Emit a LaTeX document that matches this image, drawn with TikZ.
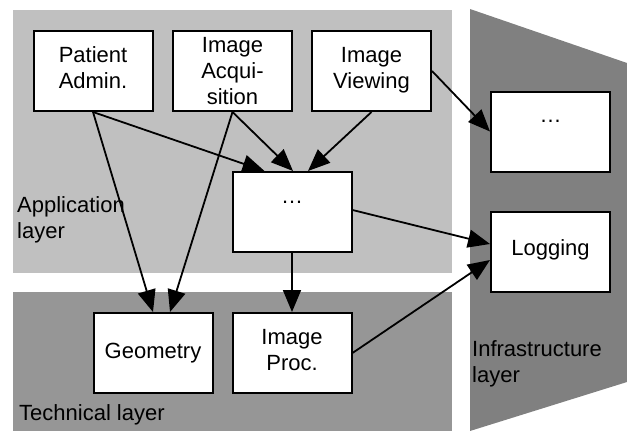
\documentclass[tikz,border=0pt]{standalone}
\usepackage{fontspec}
\setmainfont{Liberation Sans}
\usetikzlibrary{arrows.meta,calc}
\definecolor{applayer}{gray}{0.753}
\definecolor{techlayer}{gray}{0.588}
\definecolor{infralayer}{gray}{0.502}
\begin{document}
\begin{tikzpicture}[x=1pt,y=-1pt,
  every node/.style={font=\fontsize{22}{26}\selectfont},
  comp/.style={draw=black,line width=2pt,fill=white,minimum width=119pt,minimum height=80pt,inner sep=0pt,align=center},
  twoline/.style={text depth=6pt},
  dotsbox/.style={text depth=19.5pt},
  conn/.style={line width=1.8pt,-{Triangle[length=22pt,width=18pt]}},
  lbl/.style={anchor=base west,inner sep=0pt,align=left}]
\useasboundingbox (0,0) rectangle (627,431);
% layers
\fill[applayer] (13,9.5) rectangle (452,273);
\fill[techlayer] (13,292) rectangle (452,431);
\fill[infralayer] (470,9) -- (627,63) -- (627,382) -- (470,431) -- cycle;
% layer labels
\node[lbl] (appl) at (17,238) {Application\\layer};
\node[lbl] (techl) at (19,420) {Technical layer};
\node[lbl] (infl) at (472,382) {Infrastructure\\layer};
% components
\node[comp,twoline] (pat) at (93,71) {Patient\\Admin.};
\node[comp] (acq) at (232.5,71) {Image\\Acqui-\\sition};
\node[comp,twoline] (view) at (371.5,71) {Image\\Viewing};
\node[comp,dotsbox] (mid) at (292,212) {…};
\node[comp,dotsbox] (rdots) at (550.5,131.5) {…};
\node[comp,text depth=8pt] (log) at (550.5,252) {Logging};
\node[comp] (geo) at (153,353) {Geometry};
\node[comp,twoline] (proc) at (292,353) {Image\\Proc.};
% connectors
\draw[conn] (pat.south) -- ($(mid.north west)+(33,0)$);
\draw[conn] (pat.south) -- (geo.north);
\draw[conn] (acq.south) -- ($(mid.north)+(1,0)$);
\draw[conn] (acq.south) -- ($(geo.north)+(17,0)$);
\draw[conn] (view.south) -- ($(mid.north)+(16,0)$);
\draw[conn] (view.east) -- (rdots.west);
\draw[conn] ($(mid.east)+(0,-2)$) -- ($(log.west)+(0,-8)$);
\draw[conn] (mid.south) -- (proc.north);
\draw[conn] (proc.east) -- ($(log.west)+(0,8)$);
\end{tikzpicture}
\end{document}
